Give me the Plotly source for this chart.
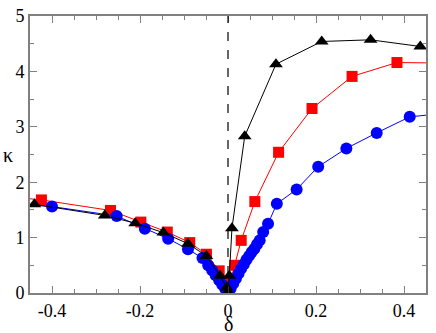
import plotly.graph_objects as go

# Black triangles
black_x = [-0.44, -0.28, -0.211, -0.147, -0.091, -0.049, -0.018, -0.003, 0.0, 0.003, 0.009, 0.038, 0.109, 0.213, 0.324, 0.437]
black_y = [1.60, 1.40, 1.26, 1.09, 0.89, 0.67, 0.31, 0.10, 0.02, 0.31, 1.17, 2.83, 4.13, 4.54, 4.57, 4.45]

# Red squares
red_x = [-0.50, -0.424, -0.267, -0.198, -0.138, -0.087, -0.049, -0.020, -0.011, 0.0, 0.005, 0.015, 0.030, 0.061, 0.115, 0.191, 0.282, 0.384, 0.50]
red_y = [1.74, 1.68, 1.49, 1.28, 1.10, 0.91, 0.70, 0.40, 0.18, 0.05, 0.18, 0.50, 0.95, 1.65, 2.54, 3.33, 3.91, 4.16, 4.15]

# Blue circles
blue_x = [-0.50, -0.40, -0.253, -0.189, -0.136, -0.091, -0.058, -0.045, -0.036, -0.028, -0.020, -0.013, -0.006, 0.0,
          0.006, 0.012, 0.018, 0.024, 0.030, 0.036, 0.042, 0.048, 0.054, 0.060, 0.066, 0.072, 0.080, 0.091, 0.111,
          0.156, 0.205, 0.269, 0.338, 0.413, 0.50]
blue_y = [1.62, 1.56, 1.39, 1.16, 0.98, 0.79, 0.63, 0.50, 0.41, 0.32, 0.23, 0.15, 0.07, 0.0,
          0.08, 0.17, 0.26, 0.35, 0.44, 0.52, 0.60, 0.67, 0.74, 0.80, 0.88, 0.95, 1.10, 1.25, 1.61,
          1.87, 2.28, 2.61, 2.89, 3.18, 3.25]

x_ticks = [-0.4, -0.2, 0, 0.2, 0.4]
x_tick_labels = ["-0.4", "-0.2", "0", "0.2", "0.4"]
y_ticks = [0, 1, 2, 3, 4, 5]
x_range = [-0.45, 0.45]
y_range = [0, 5]

FONT = "Liberation Serif"
GREY = "#808080"
fig = go.Figure()
fig.add_trace(go.Scatter(x=red_x, y=red_y, mode="lines+markers",
                         line=dict(color="#ff0000", width=1),
                         marker=dict(symbol="square", size=11, color="#ff0000")))
fig.add_trace(go.Scatter(x=blue_x, y=blue_y, mode="lines+markers",
                         line=dict(color="#0000ff", width=1),
                         marker=dict(symbol="circle", size=12, color="#0000ff")))
fig.add_trace(go.Scatter(x=black_x, y=black_y, mode="lines+markers",
                         line=dict(color="#000000", width=1),
                         marker=dict(symbol="triangle-up", size=12, color="#000000")))

fig.add_shape(type="line", xref="x", yref="paper", x0=0, x1=0, y0=0, y1=1,
              line=dict(color="black", width=1.2, dash="dash"))

axis_common = dict(showgrid=False, zeroline=False, showline=True, linecolor=GREY, linewidth=2,
                   mirror="ticks", ticks="inside", ticklen=7, tickwidth=1, tickcolor=GREY,
                   automargin=False, ticklabeloverflow="allow",
                   tickfont=dict(family=FONT, size=18, color="black"))
xminor = dict(dtick=0.05, tick0=0, ticks="inside", ticklen=4, tickcolor=GREY)
yminor = dict(dtick=0.5, tick0=0, ticks="inside", ticklen=4, tickcolor=GREY)
fig.update_layout(
    xaxis=dict(range=x_range, tickvals=x_ticks, ticktext=x_tick_labels, minor=xminor, **axis_common),
    yaxis=dict(range=y_range, tickvals=y_ticks, minor=yminor, **axis_common),
)

fig.add_annotation(text="δ", xref="paper", yref="paper", x=0.5, y=0, yshift=-31,
                   showarrow=False, xanchor="center", yanchor="middle",
                   font=dict(family=FONT, size=20, color="black"))
fig.add_annotation(text="κ", xref="paper", yref="paper", x=0, y=0.5, xshift=-22,
                   showarrow=False, xanchor="center", yanchor="middle",
                   font=dict(family=FONT, size=20, color="black"))
fig.update_layout(width=436, height=333, showlegend=False,
                  font=dict(family=FONT),
                  margin=dict(l=30, r=10, t=16, b=40),
                  plot_bgcolor="white", paper_bgcolor="white")
fig.write_html("out.html", config={"displayModeBar": False},
               post_script="document.body.style.margin='0';document.body.style.overflow='hidden';")
